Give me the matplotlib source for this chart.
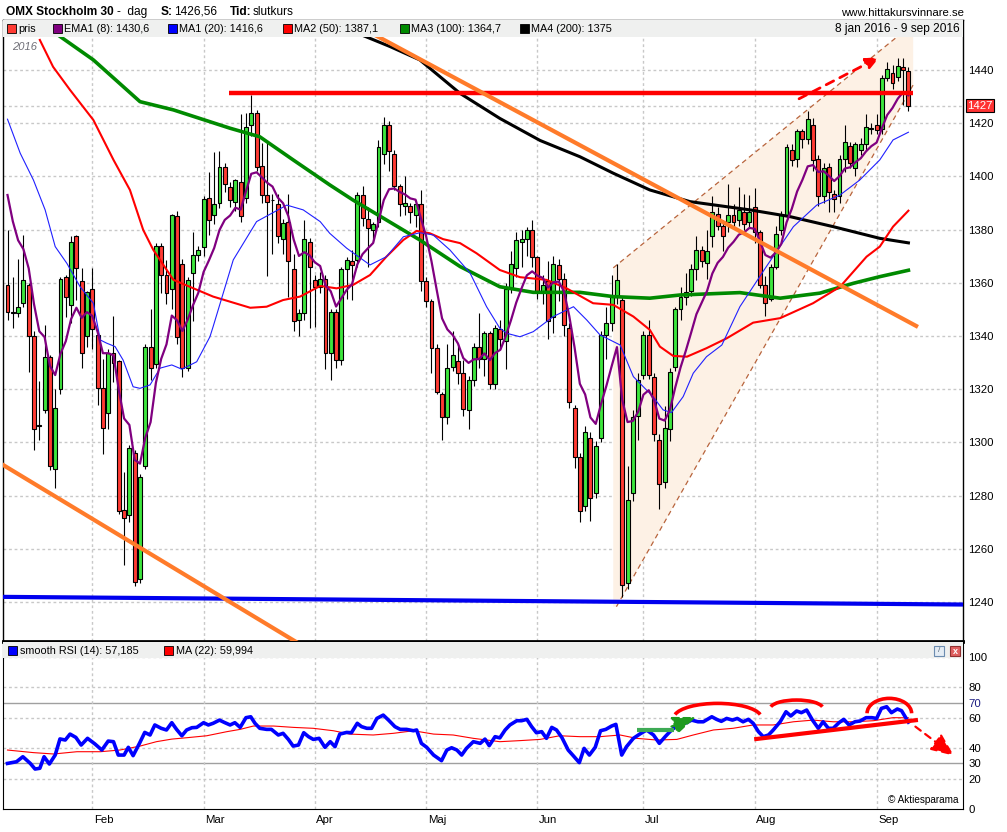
import matplotlib
matplotlib.use('Agg')
import matplotlib.pyplot as plt
import matplotlib.transforms as mtransforms
from matplotlib.patches import Rectangle, Arc, Polygon
import numpy as np
import pandas as pd

plt.rcParams['font.family'] = ['Liberation Sans', 'DejaVu Sans']

# --- candles, OMX Stockholm 30, 8 jan - 9 sep 2016 (day index 0..170) ---
opens = [
    1359, 1349, 1348.5, 1352.5, 1359, 1340, 1306.5, 1312, 1332, 1290,
    1320, 1362, 1351.5, 1377.5, 1360.5, 1340, 1357.5, 1340.5, 1320.5, 1311,
    1333.5, 1330.5, 1274.5, 1272.5, 1296, 1248.5, 1291, 1336, 1329.5, 1374,
    1363, 1357.5, 1385, 1367, 1328, 1363.5, 1370.5, 1373.5, 1392, 1385.5,
    1390, 1403.5, 1396, 1390.5, 1398, 1392, 1419.5, 1424, 1404, 1393,
    1391, 1389.5, 1376.5, 1383, 1365, 1346, 1348.5, 1375.5, 1361, 1358.5,
    1361.5, 1333.5, 1349, 1331, 1365, 1368, 1368.5, 1393, 1384, 1380,
    1383, 1408.5, 1419.5, 1408.5, 1396.5, 1389, 1389, 1385.5, 1389.5, 1360.5,
    1353, 1335.5, 1318, 1309.5, 1328.5, 1330.5, 1326, 1312, 1323.5, 1336,
    1331.5, 1341, 1322, 1342.5, 1338, 1358, 1365.5, 1375.5, 1376.5, 1380,
    1369.5, 1357, 1360.5, 1347, 1366.5, 1361.5, 1343, 1313, 1294.5, 1276,
    1301.5, 1281, 1301.5, 1340.5, 1345, 1354.5, 1353.5, 1247, 1281, 1310,
    1325.5, 1340.5, 1324.5, 1301, 1285, 1305, 1328.5, 1350, 1354.5, 1357,
    1365, 1372.5, 1367.5, 1377.5, 1386, 1381.5, 1383, 1385.5, 1383.5, 1386.5,
    1383, 1388.5, 1379, 1359, 1354, 1366, 1380, 1385.5, 1410, 1406.5,
    1417, 1414, 1419.5, 1406.5, 1392.5, 1403.5, 1393.5, 1392.5, 1406.5, 1411.5,
    1403, 1410, 1412, 1418, 1419.5, 1418, 1437, 1439, 1437.5, 1441,
    1439.5]
highs = [
    1380, 1362, 1369, 1378, 1360, 1342, 1323, 1344, 1333, 1320,
    1362, 1363, 1377.5, 1378, 1365.5, 1357, 1365.5, 1341, 1331.5, 1335,
    1347.5, 1331, 1289, 1299, 1297, 1288, 1337, 1350, 1375, 1375,
    1368.5, 1386, 1387, 1369, 1362, 1379, 1374, 1392.5, 1401.5, 1409,
    1409.5, 1405, 1398, 1399, 1423.5, 1424, 1430.5, 1425, 1412.5, 1412.5,
    1393.5, 1393.5, 1384, 1393.5, 1371, 1350, 1383.5, 1377, 1363, 1364,
    1363, 1350, 1350, 1366, 1369.5, 1372.5, 1394, 1396.5, 1388.5, 1383,
    1413.5, 1422.5, 1421, 1410, 1397, 1400, 1390, 1391, 1395, 1362,
    1354, 1337, 1319, 1337, 1342, 1337, 1331, 1325, 1337.5, 1348.5,
    1342, 1342, 1344, 1346, 1360, 1372, 1379, 1380, 1381, 1383.5,
    1370, 1363, 1368, 1370, 1369, 1363.5, 1345, 1314, 1296, 1306,
    1304, 1300.5, 1342, 1351, 1363, 1367, 1355, 1291, 1312, 1326,
    1342, 1346, 1326, 1303, 1313.5, 1328, 1351, 1358.5, 1363.5, 1367,
    1377.5, 1374, 1380, 1392.5, 1388.5, 1383.5, 1397, 1389.5, 1396, 1393.5,
    1393, 1395.5, 1380, 1362.5, 1367, 1381.5, 1387, 1412, 1412, 1418,
    1418, 1424.5, 1422, 1408, 1405, 1405, 1395, 1408, 1419.5, 1413,
    1413, 1414.5, 1423.5, 1420, 1423.5, 1438, 1443, 1442, 1444.5, 1444.5,
    1441]
lows = [
    1346, 1343, 1347, 1351, 1326.5, 1297, 1301, 1311, 1289.5, 1283,
    1318, 1347, 1345, 1353.5, 1328, 1336, 1335, 1314, 1295.5, 1305,
    1322.5, 1273, 1254, 1270, 1246, 1247, 1290, 1323.5, 1328, 1356,
    1352, 1350, 1337, 1324.5, 1327, 1345.5, 1368, 1370, 1378, 1382,
    1388, 1394, 1388.5, 1387, 1383, 1390, 1415, 1402, 1390, 1362.5,
    1371, 1375, 1371, 1354.5, 1342, 1340, 1346, 1343, 1343.5, 1356,
    1327.5, 1323.5, 1328, 1329, 1354, 1353.5, 1366, 1381.5, 1366, 1375.5,
    1381, 1404.5, 1402, 1395, 1385, 1385.5, 1382.5, 1381, 1357, 1351,
    1326, 1318, 1301, 1307, 1327, 1322, 1310, 1305, 1321, 1328,
    1325, 1320, 1320, 1335, 1327.5, 1356, 1362, 1366, 1370, 1366,
    1354, 1352, 1339, 1341, 1353, 1340, 1313, 1290.5, 1270, 1274,
    1270.5, 1279, 1300, 1331.5, 1342, 1352, 1242, 1245, 1278, 1301,
    1324, 1324, 1300.5, 1275, 1283, 1300.5, 1327, 1346, 1351.5, 1355,
    1361, 1366, 1361.5, 1373.5, 1380, 1372, 1379, 1381, 1381.5, 1380,
    1381, 1375, 1358, 1347.5, 1353, 1365, 1378, 1384, 1404, 1403.5,
    1410.5, 1412, 1402, 1389, 1390, 1386.5, 1386.5, 1390, 1401.5, 1403,
    1400, 1408, 1410, 1416, 1416, 1416, 1436, 1433, 1436, 1427,
    1424.5]
closes = [
    1349, 1348.5, 1351, 1361, 1340, 1305, 1306, 1332, 1291, 1313,
    1361.5, 1354.5, 1375.5, 1365.5, 1333.5, 1356.5, 1342.5, 1320.5, 1305.5, 1333.5,
    1330, 1274, 1271.5, 1298, 1247.5, 1287, 1336, 1328, 1374, 1363,
    1356, 1385.5, 1339.5, 1328, 1361, 1370.5, 1372.5, 1391.5, 1383.5, 1389.5,
    1403.5, 1397, 1391, 1398.5, 1385, 1418.5, 1424, 1403.5, 1393, 1390.5,
    1391.2, 1377.5, 1382.5, 1368, 1345.5, 1348.5, 1376.5, 1366, 1358.5, 1361.5,
    1333.5, 1349, 1331, 1365, 1368.5, 1366.5, 1393, 1384.5, 1380.5, 1382,
    1411, 1419.5, 1409.5, 1396.5, 1389.5, 1390, 1386.5, 1389.5, 1360.5, 1353,
    1335.5, 1319, 1309.5, 1328, 1333, 1326, 1312.5, 1323.5, 1336, 1331.5,
    1341, 1322, 1343, 1339, 1357.5, 1367, 1376, 1376.5, 1380, 1369.5,
    1357, 1359, 1345.5, 1367, 1361.5, 1344, 1315, 1294.5, 1274, 1304,
    1279, 1298.5, 1340.5, 1345, 1354.5, 1361, 1246.5, 1278.5, 1309.5, 1323.5,
    1340.5, 1325.5, 1303, 1284.5, 1305.5, 1326.5, 1350, 1354.5, 1356.5, 1365,
    1372.5, 1368, 1372, 1386.5, 1381.5, 1377.5, 1385.5, 1383, 1387.5, 1382,
    1386.5, 1379, 1359, 1352.5, 1366, 1378.5, 1385.5, 1411, 1406, 1417,
    1414, 1421.5, 1406, 1392.5, 1403, 1394, 1391.5, 1406.5, 1413, 1405,
    1412, 1412, 1418.5, 1418.2, 1417.5, 1437, 1440.5, 1435, 1441.5, 1440,
    1426.56]

ema_start = 1393  # EMA1 (8) value shown at the first candle

# moving averages (day index, value)
ma20_day = [0, 2.4, 4.9, 7.1, 9.0, 11.2, 13.7, 16.2, 17.5, 18.7, 20.3, 21.8, 23.7, 25.0, 26.9,
            28.8, 31.0, 32.9, 35.7, 38.2, 38.8, 42.6, 47.0, 52.7, 55.8, 59.0, 60.8, 64.0, 68.4,
            71.5, 74.7, 77.8, 80.3, 83.5, 87.3, 90.4, 92.9, 94.2, 96.7, 99.2, 103.0, 106.8,
            109.3, 111.8, 115.6, 118.1, 121.8, 123.7, 125.3, 127.5, 129.4, 131.9, 134.8, 138.2,
            143.2, 148.3, 152.7, 157.1, 160.8, 164.6, 167.1, 170]
ma20_val = [1421.5, 1408.7, 1398.6, 1387.4, 1373.6, 1367.3, 1358.5, 1352.3, 1338.5, 1337.3,
            1336.0, 1331.0, 1320.9, 1320.3, 1321.6, 1327.9, 1329.1, 1327.5, 1330.3, 1339.7,
            1343.5, 1368.6, 1383.0, 1389.2, 1387.4, 1383.0, 1378.6, 1373.0, 1366.7, 1369.8,
            1377.3, 1378.8, 1378.0, 1372.3, 1363.6, 1351.0, 1342.9, 1341.0, 1339.7, 1341.6,
            1347.3, 1351.0, 1346.0, 1340.4, 1336.6, 1324.7, 1317.2, 1312.2, 1311.2, 1317.2,
            1326.0, 1332.2, 1336.6, 1351.0, 1366.1, 1381.1, 1389.2, 1393.0, 1398.6, 1406.2,
            1413.7, 1416.6]
ma50_day = [6.1, 8.6, 11.8, 16.2, 20.0, 23.1, 25.6, 27.5, 31.3, 35.1, 38.8, 45.8, 48.9, 52.0,
            55.2, 59.0, 62.1, 65.2, 68.4, 71.5, 74.7, 77.2, 79.7, 82.2, 85.4, 88.5, 92.9, 96.7,
            101.7, 105.5, 110.5, 114.3, 118.1, 121.2, 123.1, 125.6, 128.2, 131.9, 135.7, 140.7,
            145.8, 152.0, 157.1, 162.1, 164.6, 167.1, 170]
ma50_val = [1451.3, 1441.2, 1432.5, 1421.2, 1406.2, 1394.9, 1379.9, 1372.4, 1361.1, 1357.9,
            1354.8, 1350.6, 1351.0, 1353.5, 1354.8, 1358.8, 1357.9, 1359.2, 1362.9, 1369.8,
            1376.1, 1379.5, 1378.6, 1376.4, 1374.9, 1371.1, 1364.8, 1362.1, 1361.1, 1357.9,
            1352.3, 1351.7, 1347.3, 1342.3, 1336.0, 1332.5, 1332.2, 1335.4, 1339.1, 1345.0,
            1346.7, 1352.3, 1358.5, 1369.8, 1373.6, 1381.1, 1387.1]
ma100_day = [9.5, 16.2, 25.0, 31.3, 42.0, 47.6, 53.9, 60.8, 65.2, 71.5, 77.8, 85.4, 92.9, 99.2,
             108.0, 114.3, 121.2, 126.9, 138.2, 145.8, 153.3, 159.6, 164.6, 170]
ma100_val = [1453.2, 1443.8, 1428.1, 1425.0, 1418.1, 1414.9, 1406.2, 1396.8, 1391.1, 1383.6,
             1376.1, 1366.1, 1358.5, 1356.4, 1356.4, 1354.8, 1354.2, 1355.4, 1356.3, 1354.2,
             1356.1, 1359.8, 1362.3, 1364.7]
ma200_day = [64.5, 66.8, 72.2, 77.8, 85.4, 92.9, 100.5, 108.0, 114.3, 121.2, 128.8, 140.1, 147.6,
             155.8, 164.6, 170]
ma200_val = [1456.0, 1453.2, 1448.8, 1443.8, 1431.2, 1421.8, 1413.5, 1407.4, 1401.2, 1394.9,
             1390.5, 1387.4, 1384.9, 1381.1, 1376.7, 1375.0]

# smooth RSI (14) and its MA (22)
rsi_day = [0.0, 1.7, 2.9, 4.3, 5.2, 6.1, 6.9, 7.9, 9.0, 9.9,
           10.9, 11.8, 12.9, 13.9, 15.1, 16.5, 17.8, 19.0, 20.0, 20.9,
           22.0, 22.8, 23.7, 24.9, 25.9, 26.9, 27.8, 29.0, 30.0, 31.0,
           31.9, 32.9, 33.8, 34.8, 35.7, 37.0, 37.9, 38.8, 40.0, 40.9,
           42.0, 42.9, 43.9, 45.0, 45.9, 46.7, 47.6, 48.9, 49.8, 51.1,
           52.0, 53.0, 53.9, 54.9, 55.9, 56.8, 57.7, 58.8, 59.9, 60.9,
           61.8, 62.7, 64.0, 64.9, 66.0, 66.8, 67.8, 68.7, 69.7, 70.9,
           71.9, 73.1, 74.1, 75.3, 76.6, 77.2, 78.1, 79.1, 80.4, 81.9,
           82.9, 83.8, 84.8, 85.7, 86.6, 87.9, 89.2, 90.1, 90.9, 92.0,
           92.9, 93.9, 94.8, 96.1, 97.0, 98.0, 98.9, 99.8, 100.8, 101.7,
           102.7, 103.6, 104.6, 105.8, 106.8, 107.9, 108.8, 109.8, 110.9, 111.9,
           112.9, 114.0, 114.8, 115.9, 116.8, 118.1, 119.3, 120.6, 121.9, 123.0,
           124.1, 125.0, 125.9, 126.9, 128.1, 129.1, 130.3, 131.3, 132.9, 133.8,
           134.7, 135.7, 136.8, 137.7, 138.8, 139.8, 140.7, 141.7, 142.6, 143.6,
           144.5, 145.8, 146.9, 147.8, 148.9, 149.8, 150.8, 151.9, 153.0, 153.9,
           154.9, 155.8, 156.9, 157.8, 158.8, 159.9, 160.9, 162.0, 163.1, 164.0,
           164.9, 165.9, 166.8, 167.9, 168.7, 170.0]
rsi_val = [30.0, 31.1, 34.4, 30.0, 26.3, 26.8, 34.4, 29.6, 35.5, 46.1,
           45.4, 49.3, 47.1, 42.1, 46.5, 42.8, 38.8, 44.7, 44.3, 35.5,
           35.5, 40.6, 35.1, 43.2, 50.4, 48.7, 55.3, 53.1, 52.0, 56.8,
           52.4, 48.2, 52.0, 53.5, 53.7, 56.8, 55.3, 56.4, 58.5, 57.0,
           55.3, 56.8, 53.7, 60.1, 60.7, 56.4, 53.1, 52.4, 52.4, 48.7,
           49.8, 45.8, 41.4, 42.1, 50.2, 47.6, 45.8, 46.5, 40.6, 44.3,
           41.0, 49.3, 50.4, 50.2, 56.4, 54.2, 53.1, 53.1, 59.6, 61.8,
           58.5, 54.2, 52.4, 52.4, 51.5, 52.0, 43.2, 40.6, 35.5, 31.8,
           38.8, 40.3, 38.8, 35.5, 39.9, 44.3, 43.2, 46.0, 41.7, 47.6,
           46.8, 52.0, 55.3, 58.1, 58.1, 59.0, 54.2, 50.2, 50.9, 46.5,
           53.7, 52.0, 47.1, 38.8, 34.9, 30.5, 39.9, 35.5, 40.6, 51.5,
           52.4, 54.6, 55.7, 35.5, 41.0, 46.5, 49.3, 52.0, 48.7, 43.2,
           47.6, 50.9, 53.7, 55.3, 56.8, 58.5, 57.4, 57.4, 60.7, 59.0,
           57.7, 59.6, 58.5, 59.6, 57.4, 59.0, 56.4, 50.9, 47.6, 48.7,
           52.0, 57.4, 64.0, 61.2, 64.5, 63.4, 65.1, 58.5, 53.1, 57.4,
           53.1, 53.1, 56.8, 59.0, 55.3, 57.4, 57.9, 60.1, 60.1, 59.6,
           66.2, 67.3, 63.4, 65.8, 64.7, 57.2]
rsi_ma_day = [0, 4.9, 8.7, 13.1, 17.5, 21.2, 25.0, 28.1, 31.0, 33.8, 37.6, 41.4, 43.9, 46.4,
              50.2, 54.0, 57.7, 61.5, 64.6, 69.0, 72.8, 76.6, 80.4, 84.1, 87.9, 92.9, 96.7,
              100.5, 104.2, 108.0, 111.8, 115.6, 118.7, 122.5, 126.3, 129.4, 133.2, 136.9,
              140.7, 144.5, 148.3, 152.0, 155.8, 159.6, 163.4, 167.1, 170]
rsi_ma_val = [38.8, 37.1, 36.2, 37.7, 37.7, 38.8, 41.4, 44.3, 46.0, 46.9, 48.2, 50.9, 52.4,
              54.6, 54.6, 53.7, 53.1, 51.5, 49.3, 48.7, 49.8, 51.5, 49.3, 48.7, 46.5, 44.3,
              45.0, 45.8, 48.2, 47.6, 47.6, 48.7, 46.5, 45.4, 45.8, 48.7, 52.0, 53.1, 55.3,
              55.3, 57.4, 58.5, 57.4, 57.4, 58.1, 60.1, 60.0]

# drawn trend lines (start/end in day index, price)
resist_day, resist_val = [41.8, 170.8], [1431.2, 1431.2]
support_day, support_val = [-1, 181], [1241.9, 1239.0]
trend1_day, trend1_val = [-1, 56], [1291.7, 1223.1]
trend2_day, trend2_val = [65, 171.8], [1457.8, 1343.4]
chan_day = [114.3, 170.9]
chan_upper = [1365.6, 1457.4]
chan_lower = [1238.2, 1434.4]

month_days = [16, 37, 58, 79, 100, 120, 141, 164]
month_names = ['Feb', 'Mar', 'Apr', 'Maj', 'Jun', 'Jul', 'Aug', 'Sep']
price_ticks = [1240, 1260, 1280, 1300, 1320, 1340, 1360, 1380, 1400, 1420, 1440]
rsi_ticks = [0, 20, 30, 40, 60, 70, 80, 100]

W, H = 1007, 832
fig = plt.figure(figsize=(W / 100, H / 100), dpi=100)
fig.patch.set_facecolor('white')

ax = fig.add_axes([3 / W, 1 - 641 / H, 960 / W, 621 / H])
axr = fig.add_axes([3 / W, 1 - 809 / H, 960 / W, 167 / H])

XL = (-0.85, 180.3)
grid_kw = dict(color='#c8c8c8', lw=1.0, linestyle=(0, (2, 2)), zorder=0)

# ---------- main panel ----------
ax.set_xlim(*XL)
ax.set_ylim(1225.3, 1458.8)
for p in price_ticks + [1426.56]:
    ax.axhline(p, **grid_kw)
for d in month_days:
    ax.axvline(d, **grid_kw)

# price channel
ax.add_patch(Polygon([(chan_day[0], chan_upper[0]), (chan_day[1], chan_upper[1]),
                      (chan_day[1], chan_lower[1]), (chan_day[0] + 0.6, chan_lower[0]),
                      (chan_day[0], chan_lower[0])],
                     closed=True, facecolor='#fdf1e5', edgecolor='none', zorder=1))
ax.plot(chan_day, chan_upper, color='#b8643c', lw=0.9, linestyle=(0, (4, 3)), zorder=2)
ax.plot([chan_day[0] + 0.6, chan_day[1]], chan_lower, color='#b8643c', lw=0.9,
        linestyle=(0, (4, 3)), zorder=2)

o = np.array(opens)
c = np.array(closes)
h = np.array(highs)
l = np.array(lows)
x = np.arange(len(c))
up = c >= o
body_lo = np.minimum(o, c)
body_h = np.maximum(np.abs(c - o), 0.25)
ax.vlines(x, np.minimum(l, body_lo), np.maximum(h, body_lo + body_h), color='black', lw=0.8, zorder=3)
ax.bar(x, body_h, bottom=body_lo, width=0.74,
       color=np.where(up, '#3de63d', '#ff3b33'), edgecolor='black', linewidth=0.8, zorder=4)

ema = pd.Series([ema_start] + closes[1:]).ewm(span=8, adjust=False).mean()
ax.plot(ma100_day, ma100_val, color='#008a00', lw=2.6, zorder=5)
ax.plot(ma200_day, ma200_val, color='black', lw=2.2, zorder=5)
ax.plot(ma50_day, ma50_val, color='#ff0000', lw=1.5, zorder=5)
ax.plot(ma20_day, ma20_val, color='#2020ff', lw=0.8, zorder=5)
ax.plot(x, ema, color='#800080', lw=1.6, zorder=5)

ax.plot(resist_day, resist_val, color='#ff0000', lw=3.2, zorder=6, solid_capstyle='butt')
ax.plot(support_day, support_val, color='#0000ee', lw=3.0, zorder=6)
ax.plot(trend1_day, trend1_val, color='#ff7b2a', lw=3.0, zorder=6)
ax.plot(trend2_day, trend2_val, color='#ff7b2a', lw=3.0, zorder=6, solid_capstyle='butt')
ax.annotate('', xy=(165.0, 1445.3), xytext=(148.9, 1428.7),
            arrowprops=dict(arrowstyle='-|>,head_length=0.8,head_width=0.35', color='#ff0000',
                            lw=2.0, linestyle=(0, (3, 2.5))), zorder=7)

ax.yaxis.tick_right()
ax.set_yticks(price_ticks)
ax.set_yticklabels([str(t) for t in price_ticks])
ax.tick_params(axis='y', length=0, pad=4, labelsize=8.2)
ax.set_xticks([])
for s in ['left', 'right', 'top']:
    ax.spines[s].set_linewidth(1.0)
ax.spines['bottom'].set_linewidth(2.0)

tr = mtransforms.blended_transform_factory(ax.transAxes, ax.transData)
ax.text(1.0045, 1426.56, '1427', transform=tr, color='white', fontsize=8.2, va='center',
        ha='left', clip_on=False, zorder=20,
        bbox=dict(boxstyle='square,pad=0.12', facecolor='#ff3333', edgecolor='black', lw=0.8))

# legend band
ax.add_patch(Rectangle((0, 1 - 17 / 621), 1, 17 / 621, transform=ax.transAxes,
                       facecolor='#eff0ef', edgecolor='none', zorder=10))
ax.text(9 / 960, 1 - 27 / 621, '2016', transform=ax.transAxes, fontsize=8, style='italic',
        color='#707078', va='center', ha='left', zorder=11)

legend_items = [('pris', '#ff3b33', 7), ('EMA1 (8): 1430,6', '#800080', 53),
                ('MA1 (20): 1416,6', '#0000ff', 168), ('MA2 (50): 1387,1', '#ff0000', 283),
                ('MA3 (100): 1364,7', '#008a00', 400), ('MA4 (200): 1375', '#000000', 520)]
for label, col, px in legend_items:
    fig.add_artist(Rectangle((px / W, 1 - 33 / H), 9 / W, 9 / H, transform=fig.transFigure,
                             facecolor=col, edgecolor='black', lw=0.6, zorder=5))
    fig.text((px + 11) / W, 1 - 29 / H, label, fontsize=7.8, va='center', ha='left', zorder=6)
fig.text(960 / W, 1 - 29 / H, '8 jan 2016 - 9 sep 2016', fontsize=8.6, va='center',
         ha='right', zorder=6)

# title line
y_t = 1 - 12 / H
fig.text(6 / W, y_t, 'OMX Stockholm 30', fontsize=8.6, weight='bold', va='center')
fig.text(117 / W, y_t, '-  dag', fontsize=8.6, va='center')
fig.text(161 / W, y_t, 'S:', fontsize=8.6, weight='bold', va='center')
fig.text(174 / W, y_t, '1426,56', fontsize=8.6, va='center')
fig.text(230 / W, y_t, 'Tid:', fontsize=8.6, weight='bold', va='center')
fig.text(253 / W, y_t, 'slutkurs', fontsize=8.6, va='center')
fig.text(964 / W, 1 - 13 / H, 'www.hittakursvinnare.se', fontsize=8.2, va='center', ha='right')

# ---------- RSI panel ----------
axr.set_xlim(*XL)
axr.set_ylim(0, 109.9)
for v in [20, 40, 60, 80, 100]:
    axr.axhline(v, **grid_kw)
for v in [30, 70]:
    axr.axhline(v, color='#a0a0a0', lw=1.0, zorder=0)
for d in month_days:
    axr.axvline(d, **grid_kw)

axr.plot(rsi_ma_day, rsi_ma_val, color='#ff0000', lw=0.8, zorder=3)
axr.plot(rsi_day, rsi_val, color='#0000ff', lw=2.6, zorder=4)

# annotations in RSI panel
axr.plot([118.8, 125.7], [52.0, 52.0], color='#3daa55', lw=3.0, zorder=5, solid_capstyle='butt')
axr.annotate('', xy=(130.4, 61.2), xytext=(124.8, 53.6),
             arrowprops=dict(arrowstyle='-|>,head_length=1.4,head_width=0.55', color='#1e9a1e',
                             lw=1.6, linestyle=(0, (3, 2))), zorder=6)
axr.add_patch(Arc((134.0, 60.0), 16.5, 19.0, theta1=15, theta2=165, color='#ff0000', lw=2.6, zorder=6))
axr.add_patch(Arc((148.9, 66.0), 10.0, 11.4, theta1=15, theta2=165, color='#ff0000', lw=2.6, zorder=6))
axr.add_patch(Arc((166.4, 63.0), 8.4, 19.6, theta1=0, theta2=180, color='#ff0000', lw=2.6, zorder=6))
axr.plot([140.9, 171.8], [45.9, 58.6], color='#ff0000', lw=3.0, zorder=6, solid_capstyle='butt')
axr.annotate('', xy=(179.0, 34.0), xytext=(170.9, 55.3),
             arrowprops=dict(arrowstyle='-|>,head_length=1.4,head_width=0.6', color='#ff0000',
                             lw=1.6, linestyle=(0, (3, 2.5))), zorder=6)

axr.yaxis.tick_right()
axr.set_yticks(rsi_ticks)
axr.set_yticklabels([str(t) for t in rsi_ticks])
axr.tick_params(axis='y', length=0, pad=4, labelsize=8.2)
for lab in axr.get_yticklabels():
    if lab.get_text() == '70':
        lab.set_color('#1a1a80')
axr.set_xticks([d + 0.3 for d in month_days])
axr.set_xticklabels(month_names)
axr.tick_params(axis='x', length=0, pad=4, labelsize=8.2)
for lab in axr.get_xticklabels():
    lab.set_horizontalalignment('left')
axr.spines['top'].set_linewidth(2.0)

axr.add_patch(Rectangle((0, 1 - 16 / 167), 1, 16 / 167, transform=axr.transAxes,
                        facecolor='#eff0ef', edgecolor='none', zorder=10))
for label, col, px in [('smooth RSI (14): 57,185', '#0000ff', 8), ('MA (22): 59,994', '#ff0000', 164)]:
    fig.add_artist(Rectangle((px / W, 1 - 655 / H), 9 / W, 9 / H, transform=fig.transFigure,
                             facecolor=col, edgecolor='black', lw=0.6, zorder=5))
    fig.text((px + 12) / W, 1 - 651 / H, label, fontsize=7.8, va='center', ha='left', zorder=6)
# small tool icons
fig.add_artist(Rectangle((934 / W, 1 - 656 / H), 10 / W, 10 / H, transform=fig.transFigure,
                         facecolor='#e4ecf4', edgecolor='#6c8cb0', lw=0.8, zorder=5))
fig.text(939 / W, 1 - 651 / H, '/', fontsize=6, ha='center', va='center', color='#556677', zorder=6)
fig.add_artist(Rectangle((950 / W, 1 - 656 / H), 10 / W, 10 / H, transform=fig.transFigure,
                         facecolor='#e06060', edgecolor='#903030', lw=0.8, zorder=5))
fig.text(955 / W, 1 - 651 / H, 'x', fontsize=6.5, ha='center', va='center', color='white',
         weight='bold', zorder=6)

fig.text(959 / W, 1 - 800 / H, '\u00a9 Aktiesparama', fontsize=7.2, ha='right', va='center')

fig.savefig('out.png', dpi=100)
